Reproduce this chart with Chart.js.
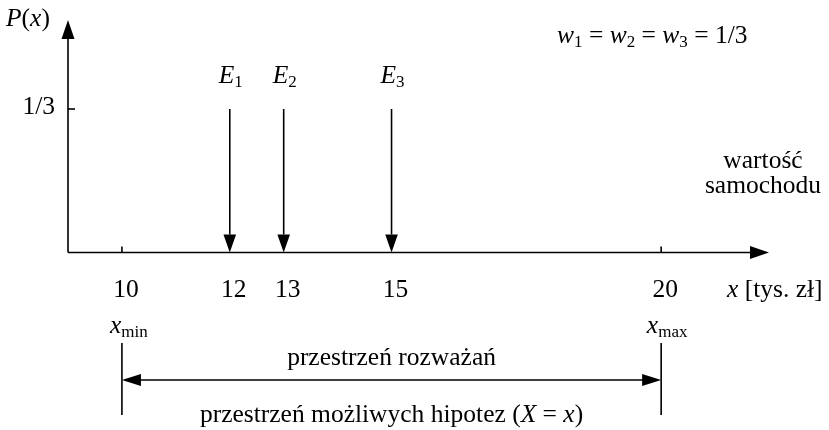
<!DOCTYPE html>
<html>
<head>
<meta charset="utf-8">
<script src="https://cdn.jsdelivr.net/npm/chart.js@4"></script>
<style>
  body { margin: 0; background: #fff; }
  canvas { display: block; }
</style>
</head>
<body>
<canvas id="chart" width="829" height="430"></canvas>
<script>
// data
const eventNames = ['1', '2', '3'];          // subscripts of E
const eventValues = [12, 13, 15];            // x [tys. zł]
const eventProbs = [1 / 3, 1 / 3, 1 / 3];    // P(x)
const xTickValues = [10, 12, 13, 15, 20];
const xTickLabels = ['10', '12', '13', '15', '20'];
const yTickValue = 1 / 3;
const yTickLabel = '1/3';
const rangeMin = 10;
const rangeMax = 20;

const FONT = '"Liberation Serif", "Times New Roman", serif';
const SIZE = 25.5;
const SUB = 17;

function fontFor(part) {
    const size = part.sub ? SUB : SIZE;
    return (part.it ? 'italic ' : '') + size + 'px ' + FONT;
}

// draws mixed text (italic / subscript parts)
function drawRich(ctx, parts, x, y, align) {
    let total = 0;
    parts.forEach(p => { ctx.font = fontFor(p); total += ctx.measureText(p.t).width; });
    let cx = x;
    if (align === 'center') cx = x - total / 2;
    if (align === 'right') cx = x - total;
    ctx.textAlign = 'left';
    ctx.textBaseline = 'alphabetic';
    parts.forEach(p => {
        ctx.font = fontFor(p);
        ctx.fillText(p.t, cx, p.sub ? y + 4 : y);
        cx += ctx.measureText(p.t).width;
    });
}

function arrowHead(ctx, tx, ty, dx, dy, len, half) {
    const bx = tx - dx * len, by = ty - dy * len;
    ctx.beginPath();
    ctx.moveTo(tx, ty);
    ctx.lineTo(bx - dy * half, by + dx * half);
    ctx.lineTo(bx + dy * half, by - dx * half);
    ctx.closePath();
    ctx.fill();
}

const diagram = {
    id: 'diagram',
    afterDraw(chart) {
        const ctx = chart.ctx;
        const xs = chart.scales.x, ys = chart.scales.y;
        const area = chart.chartArea;
        const x0 = xs.getPixelForValue(xs.min);
        const y0 = ys.getPixelForValue(0);
        ctx.save();
        ctx.strokeStyle = '#000';
        ctx.fillStyle = '#000';
        ctx.lineWidth = 1.6;

        // axes
        ctx.beginPath();
        ctx.moveTo(x0, y0);
        ctx.lineTo(x0, area.top + 18);
        ctx.moveTo(x0, y0);
        ctx.lineTo(area.right - 18, y0);
        ctx.stroke();
        arrowHead(ctx, x0, area.top, 0, -1, 19, 6.5);
        arrowHead(ctx, area.right, y0, 1, 0, 19, 6.5);

        // event arrowheads
        eventValues.forEach(v => {
            arrowHead(ctx, xs.getPixelForValue(v), y0, 0, 1, 18, 6.3);
        });

        // y tick 1/3
        const yt = ys.getPixelForValue(yTickValue);
        ctx.beginPath();
        ctx.moveTo(x0, yt);
        ctx.lineTo(x0 + 7, yt);
        ctx.stroke();
        drawRich(ctx, [{ t: yTickLabel }], 55, yt + 5, 'right');

        // x ticks at range limits
        [rangeMin, rangeMax].forEach(v => {
            const px = xs.getPixelForValue(v);
            ctx.beginPath();
            ctx.moveTo(px, y0);
            ctx.lineTo(px, y0 - 6);
            ctx.stroke();
        });

        // x tick labels
        xTickValues.forEach((v, i) => {
            drawRich(ctx, [{ t: xTickLabels[i] }], xs.getPixelForValue(v) + 4, y0 + 44, 'center');
        });
        drawRich(ctx, [{ t: 'x', it: true }, { t: ' [tys. zł]' }], 727, y0 + 44, 'left');

        // axis titles
        drawRich(ctx, [{ t: 'P', it: true }, { t: '(' }, { t: 'x', it: true }, { t: ')' }], 6, 26, 'left');
        drawRich(ctx, [{ t: 'wartość' }], 763, 168, 'center');
        drawRich(ctx, [{ t: 'samochodu' }], 763, 193, 'center');

        // event labels
        eventValues.forEach((v, i) => {
            drawRich(ctx, [{ t: 'E', it: true }, { t: eventNames[i], sub: true }],
                xs.getPixelForValue(v) + 1, ys.getPixelForValue(eventProbs[i]) - 26, 'center');
        });

        // weights
        drawRich(ctx, [
            { t: 'w', it: true }, { t: '1', sub: true }, { t: ' = ' },
            { t: 'w', it: true }, { t: '2', sub: true }, { t: ' = ' },
            { t: 'w', it: true }, { t: '3', sub: true }, { t: ' = 1/3' }
        ], 557, 43, 'left');

        // range of consideration
        const pMin = xs.getPixelForValue(rangeMin);
        const pMax = xs.getPixelForValue(rangeMax);
        drawRich(ctx, [{ t: 'x', it: true }, { t: 'min', sub: true }], pMin + 7, 333, 'center');
        drawRich(ctx, [{ t: 'x', it: true }, { t: 'max', sub: true }], pMax + 6, 333, 'center');
        ctx.beginPath();
        ctx.moveTo(pMin, 343);
        ctx.lineTo(pMin, 415);
        ctx.moveTo(pMax, 343);
        ctx.lineTo(pMax, 415);
        ctx.moveTo(pMin + 18, 380);
        ctx.lineTo(pMax - 18, 380);
        ctx.stroke();
        arrowHead(ctx, pMin, 380, -1, 0, 19, 6);
        arrowHead(ctx, pMax, 380, 1, 0, 19, 6);
        const mid = (pMin + pMax) / 2;
        drawRich(ctx, [{ t: 'przestrzeń rozważań' }], mid, 365, 'center');
        drawRich(ctx, [
            { t: 'przestrzeń możliwych hipotez (' }, { t: 'X', it: true },
            { t: ' = ' }, { t: 'x', it: true }, { t: ')' }
        ], mid, 422, 'center');

        ctx.restore();
    }
};

// vertical stems of the events, one dataset each
const datasets = eventValues.map((v, i) => ({
    label: 'E' + eventNames[i],
    data: [{ x: v, y: eventProbs[i] }, { x: v, y: 0.042 }],
    showLine: true,
    borderColor: '#000',
    borderWidth: 1.6,
    pointRadius: 0,
    pointHoverRadius: 0,
}));

new Chart(document.getElementById('chart').getContext('2d'), {
    type: 'scatter',
    data: { datasets },
    options: {
        responsive: false,
        animation: false,
        layout: { padding: { left: 68, right: 60, top: 20, bottom: 177.5 } },
        plugins: { legend: { display: false }, tooltip: { enabled: false } },
        scales: {
            x: { type: 'linear', min: 9, max: 22, display: false },
            y: { type: 'linear', min: 0, max: 0.54, display: false },
        },
    },
    plugins: [diagram],
});
</script>
</body>
</html>
